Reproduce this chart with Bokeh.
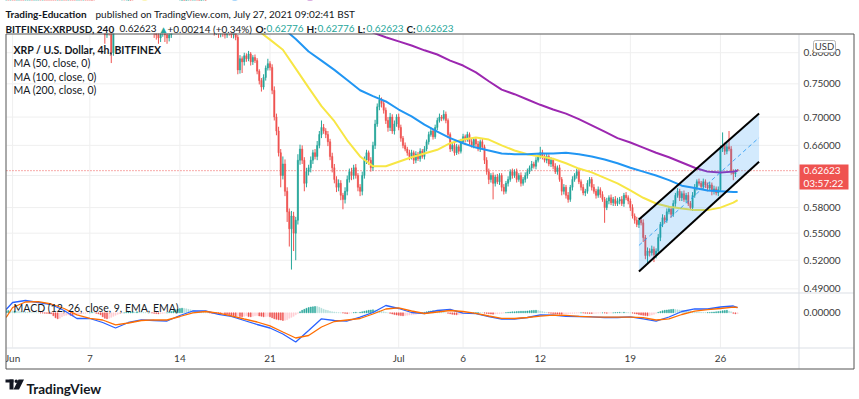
import pandas as pd
from bokeh.plotting import figure
from bokeh.core.properties import value
from bokeh.models import (Range1d, LinearScale, Label, BoxAnnotation, PolyAnnotation,
                          ColumnDataSource)
from bokeh.embed import file_html
from bokeh.resources import INLINE

# ---------------- DATA ----------------
# 4h candles, first bar 2021-05-31 12:00, one row per day
closes = [
    0.990, 0.980, 1.000,
    0.990, 0.970, 0.980, 1.000, 0.985, 0.975,  # Jun 1
    0.990, 1.010, 1.020, 1.010, 1.030, 1.040,
    1.050, 1.040, 1.060, 1.040, 1.030, 1.020,
    0.990, 0.970, 0.950, 0.960, 0.940, 0.950,
    0.930, 0.920, 0.940, 0.920, 0.910, 0.900,  # Jun 5
    0.910, 0.920, 0.910, 0.930, 0.920, 0.910,
    0.900, 0.890, 0.880, 0.860, 0.850, 0.840,
    0.840, 0.830, 0.845, 0.835, 0.800, 0.840,
    0.860, 0.870, 0.880, 0.890, 0.880, 0.890,
    0.900, 0.890, 0.880, 0.870, 0.880, 0.860,  # Jun 10
    0.870, 0.860, 0.860, 0.850, 0.840, 0.845,
    0.835, 0.830, 0.825, 0.835, 0.840, 0.830,
    0.825, 0.830, 0.840, 0.850, 0.860, 0.880,
    0.890, 0.900, 0.890, 0.900, 0.910, 0.900,
    0.910, 0.920, 0.900, 0.890, 0.900, 0.910,  # Jun 15
    0.880, 0.860, 0.850, 0.840, 0.835, 0.838,
    0.832, 0.840, 0.835, 0.830, 0.842, 0.836,
    0.830, 0.838, 0.826, 0.772, 0.790, 0.785,
    0.795, 0.790, 0.798, 0.785, 0.792, 0.787,
    0.770, 0.755, 0.745, 0.760, 0.775, 0.782,  # Jun 20
    0.776, 0.740, 0.700, 0.680, 0.650, 0.620,
    0.635, 0.600, 0.575, 0.555, 0.570, 0.550,
    0.565, 0.640, 0.655, 0.640, 0.610, 0.625,
    0.630, 0.640, 0.650, 0.645, 0.660, 0.675,
    0.685, 0.680, 0.675, 0.665, 0.645, 0.630,  # Jun 25
    0.615, 0.605, 0.610, 0.595, 0.590, 0.600,
    0.615, 0.625, 0.620, 0.630, 0.620, 0.605,
    0.600, 0.620, 0.640, 0.650, 0.640, 0.630,
    0.660, 0.690, 0.715, 0.725, 0.720, 0.710,
    0.695, 0.685, 0.700, 0.680, 0.690, 0.700,  # Jun 30
    0.685, 0.670, 0.660, 0.655, 0.650, 0.645,  # Jul 1
    0.650, 0.640, 0.648, 0.642, 0.652, 0.645,
    0.655, 0.665, 0.675, 0.680, 0.672, 0.685,
    0.695, 0.700, 0.698, 0.704, 0.695, 0.675,
    0.655, 0.660, 0.650, 0.658, 0.652, 0.665,  # Jul 5
    0.672, 0.668, 0.675, 0.665, 0.660, 0.668,
    0.662, 0.655, 0.665, 0.658, 0.640, 0.625,
    0.615, 0.620, 0.610, 0.618, 0.612, 0.620,
    0.605, 0.600, 0.610, 0.615, 0.625, 0.620,
    0.625, 0.615, 0.620, 0.610, 0.615, 0.620,  # Jul 10
    0.625, 0.630, 0.635, 0.632, 0.640, 0.645,
    0.650, 0.645, 0.640, 0.645, 0.635, 0.640,
    0.632, 0.625, 0.630, 0.615, 0.600, 0.605,
    0.595, 0.590, 0.605, 0.615, 0.620, 0.625,
    0.612, 0.605, 0.598, 0.600, 0.610, 0.615,  # Jul 15
    0.605, 0.600, 0.595, 0.602, 0.596, 0.590,
    0.580, 0.588, 0.592, 0.586, 0.590, 0.585,
    0.588, 0.590, 0.585, 0.595, 0.592, 0.588,
    0.580, 0.570, 0.565, 0.560, 0.565, 0.562,
    0.545, 0.525, 0.530, 0.528, 0.532, 0.526,  # Jul 20
    0.530, 0.545, 0.560, 0.568, 0.565, 0.575,
    0.578, 0.572, 0.585, 0.595, 0.600, 0.592,
    0.597, 0.590, 0.595, 0.585, 0.580, 0.595,
    0.605, 0.612, 0.610, 0.606, 0.612, 0.608,
    0.604, 0.608, 0.600, 0.603, 0.598, 0.602,  # Jul 25
    0.655, 0.660, 0.652, 0.658, 0.655, 0.625,
    0.622, 0.62409, 0.62623,                   # Jul 27
]
first_open = 0.985
last_open = 0.62776

# wick lengths above / below the body, in thousandths
upper_wick_milli = [
    5, 4, 6,
    5, 4, 6, 5, 4, 6,  5, 6, 4, 5, 7, 5,  6, 5, 8, 4, 5, 6,  5, 4, 6, 5, 4, 5,
    4, 5, 6, 4, 5, 4,  5, 6, 4, 5, 4, 5,  4, 5, 4, 6, 5, 4,  5, 4, 6, 5, 4, 6,
    5, 4, 5, 6, 4, 5,  6, 4, 5, 4, 6, 5,  4, 5, 4, 6, 5, 4,  4, 3, 5, 4, 5, 3,
    4, 5, 4, 6, 5, 4,  5, 6, 4, 5, 6, 5,  6, 5, 4, 5, 6, 5,  5, 4, 5, 4, 3, 5,
    4, 5, 3, 4, 5, 4,  4, 5, 3, 4, 6, 4,  5, 4, 5, 3, 4, 5,  4, 3, 4, 5, 4, 8,
    4, 5, 6, 5, 6, 5,  10, 6, 5, 4, 6, 5, 4, 8, 6, 5, 4, 5,  4, 5, 4, 5, 6, 5,
    10, 5, 4, 5, 4, 5, 5, 4, 5, 4, 3, 5,  5, 4, 5, 4, 5, 3,  4, 5, 5, 4, 3, 4,
    5, 6, 5, 8, 4, 5,  4, 5, 6, 4, 5, 4,
    5, 4, 3, 4, 3, 4,  4, 3, 4, 3, 4, 3,  4, 3, 4, 5, 3, 4,  4, 5, 3, 6, 4, 3,
    3, 4, 3, 4, 3, 4,  4, 3, 4, 3, 4, 3,  3, 4, 3, 4, 3, 4,  4, 3, 4, 3, 4, 3,
    3, 4, 3, 4, 3, 4,  3, 4, 3, 4, 3, 4,  4, 3, 4, 3, 4, 4,  8, 4, 3, 4, 3, 4,
    3, 4, 3, 4, 3, 4,  3, 4, 3, 4, 3, 4,  4, 3, 4, 3, 4, 3,  3, 4, 3, 4, 3, 4,
    3, 4, 3, 4, 3, 4,  4, 3, 4, 3, 4, 3,  3, 4, 3, 4, 3, 4,  4, 3, 4, 3, 4, 3,
    3, 4, 3, 4, 3, 4,  4, 3, 4, 3, 4, 3,  3, 4, 3, 4, 3, 4,  4, 3, 4, 3, 4, 3,
    3, 4, 3, 4, 3, 4,  5, 18, 4, 5, 22, 4,
    3, 4, 0,
]
lower_wick_milli = [
    5, 6, 4,
    5, 6, 4, 5, 6, 4,  5, 4, 6, 5, 4, 5,  4, 5, 6, 5, 4, 6,  5, 6, 4, 5, 6, 5,
    6, 5, 4, 6, 5, 6,  5, 4, 6, 5, 6, 5,  5, 4, 6, 5, 4, 5,  6, 15, 5, 6, 17, 5,
    4, 5, 6, 4, 5, 4,  5, 6, 4, 5, 4, 6,  5, 4, 6, 5, 6, 5,  10, 8, 10, 7, 8, 12,
    10, 6, 5, 4, 5, 6, 5, 4, 6, 5, 4, 6,  5, 4, 6, 5, 4, 5,  6, 5, 4, 6, 6, 5,
    7, 6, 8, 6, 5, 7,  5, 6, 5, 7, 6, 18, 6, 5, 4, 6, 5, 4,  5, 6, 7, 4, 5, 4,
    5, 6, 5, 6, 5, 15, 5, 6, 12, 20, 45, 20, 30, 5, 6, 5, 10, 5, 5, 6, 5, 4, 5, 4,
    5, 4, 5, 6, 5, 6,  5, 6, 5, 6, 12, 5, 5, 4, 6, 5, 4, 5,  6, 5, 4, 5, 6, 5,
    4, 5, 4, 5, 6, 5,  5, 6, 5, 4, 5, 4,
    4, 5, 4, 3, 4, 5,  4, 5, 4, 3, 4, 3,  4, 3, 4, 3, 4, 3,  4, 3, 4, 3, 4, 5,
    4, 3, 4, 3, 4, 3,  3, 4, 3, 4, 3, 4,  4, 3, 4, 3, 5, 4,  6, 4, 20, 4, 3, 4,
    5, 4, 3, 4, 3, 4,  3, 4, 3, 4, 3, 4,  4, 3, 4, 3, 4, 3,  3, 4, 3, 4, 3, 4,
    4, 3, 4, 3, 5, 4,  4, 4, 3, 4, 3, 4,  3, 4, 3, 4, 3, 4,  4, 3, 4, 3, 4, 3,
    18, 3, 4, 3, 4, 3, 3, 4, 3, 4, 3, 4,  4, 3, 4, 3, 4, 3,  5, 4, 8, 4, 3, 8,
    4, 3, 4, 3, 4, 3,  3, 4, 3, 4, 3, 4,  4, 3, 4, 3, 3, 4,  3, 4, 3, 4, 3, 4,
    4, 3, 5, 4, 3, 4,  3, 4, 5, 4, 3, 4,
    8, 4, 0,
]

# indicator samples: 2021-05-31 12:00, then daily 00:00 Jun 1 .. Jul 27, then Jul 27 08:00
ma50 = [0.990,
        0.990, 0.992, 0.995, 1.000, 1.000, 0.990, 0.970, 0.950, 0.930, 0.910,
        0.895, 0.882, 0.872, 0.866, 0.862, 0.864, 0.865, 0.860, 0.850, 0.839,
        0.822, 0.805, 0.774, 0.744, 0.716, 0.694, 0.667, 0.645, 0.632, 0.632,
        0.638, 0.644, 0.649, 0.654, 0.663, 0.668, 0.671, 0.668, 0.660, 0.653,
        0.648, 0.645, 0.642, 0.636, 0.629, 0.624, 0.617, 0.610, 0.601, 0.592,
        0.585, 0.581, 0.579, 0.577, 0.577, 0.580, 0.586,
        0.589]
ma100 = [1.080,
         1.080, 1.080, 1.075, 1.070, 1.065, 1.060, 1.050, 1.040, 1.030, 1.015,
         1.000, 0.985, 0.970, 0.955, 0.940, 0.925, 0.910, 0.895, 0.882, 0.868,
         0.855, 0.842, 0.823, 0.802, 0.787, 0.772, 0.756, 0.740, 0.731, 0.723,
         0.711, 0.701, 0.689, 0.679, 0.670, 0.663, 0.657, 0.653, 0.649, 0.648,
         0.648, 0.649, 0.649, 0.650, 0.648, 0.645, 0.641, 0.636, 0.630, 0.625,
         0.620, 0.614, 0.607, 0.604, 0.601, 0.600, 0.599,
         0.599]
ma200 = [1.150,
         1.148, 1.143, 1.138, 1.133, 1.128, 1.122, 1.115, 1.108, 1.100, 1.090,
         1.080, 1.068, 1.055, 1.040, 1.025, 1.010, 0.995, 0.980, 0.965, 0.950,
         0.935, 0.920, 0.905, 0.893, 0.881, 0.870, 0.858, 0.845, 0.834, 0.826,
         0.819, 0.812, 0.804, 0.797, 0.787, 0.779, 0.768, 0.754, 0.741, 0.734,
         0.726, 0.718, 0.711, 0.705, 0.697, 0.688, 0.679, 0.670, 0.664, 0.657,
         0.650, 0.644, 0.637, 0.630, 0.625, 0.624, 0.625,
         0.626]
macd_line = [0.0033,
             0.0103, 0.0123, 0.0103, 0.0083, 0.0023, -0.0057, -0.0057, -0.0097, -0.0152, -0.0097,
             -0.0070, -0.0077, -0.0082, -0.0027, 0.0018, 0.0018, -0.0015, -0.0035, -0.0077, -0.0117,
             -0.0152, -0.0212, -0.0292, -0.0177, -0.0060, -0.0077, -0.0082, -0.0044, 0.0003, 0.0073,
             0.0043, 0.0003, -0.0007, 0.0023, 0.0033, -0.0003, -0.0009, -0.0037, -0.0064, -0.0062,
             -0.0047, -0.0020, -0.0023, -0.0035, -0.0037, -0.0040, -0.0047, -0.0047, -0.0040, -0.0060,
             -0.0084, -0.0042, 0.0013, 0.0040, 0.0038, 0.0058, 0.0068,
             0.0053]
signal_line = [-0.0047,
               0.0053, 0.0108, 0.0111, 0.0088, 0.0043, -0.0020, -0.0055, -0.0072, -0.0120, -0.0102,
               -0.0077, -0.0071, -0.0072, -0.0037, 0.0000, 0.0013, -0.0004, -0.0030, -0.0062, -0.0092,
               -0.0130, -0.0192, -0.0252, -0.0227, -0.0142, -0.0087, -0.0072, -0.0057, -0.0012, 0.0038,
               0.0050, 0.0018, -0.0007, 0.0008, 0.0023, 0.0013, -0.0005, -0.0032, -0.0055, -0.0057,
               -0.0047, -0.0034, -0.0023, -0.0025, -0.0035, -0.0041, -0.0044, -0.0044, -0.0044, -0.0049,
               -0.0072, -0.0060, -0.0017, 0.0016, 0.0031, 0.0043, 0.0056,
               0.0053]
# MACD histogram per 4h bar, in units of 0.0001
macd_hist_e4 = [
    20, 22, 20,
    18, 18, 16, 14, 12, 10,  8, 6, 5, 3, 2, 1,  0, -2, -3, -4, -5, -6,
    -10, -30, -50, -60, -55, -40,  -30, -25, -20, -25, -30, -25,  -20, -15, -10, -8, -5, -3,
    0, 5, 3, -5, -10, -20,  -40, -55, -60, -55, -45, -35,  -25, -15, -8, -3, 0, 5,
    8, 10, 10, 8, 10, 8,  6, 5, 3, 2, 0, -2,  -5, -8, -10, -8, -5, -3,
    0, 5, 12, 20, 30, 38,  42, 46, 44, 40, 35, 30,  25, 20, 15, 12, 10, 8,
    5, 2, -2, -4, -5, -6,  -8, -10, -8, -12, -15, -20,  -25, -30, -35, -32, -38, -40,
    -35, -30, -38, -40, -35, -30,  -28, -32, -35, -40, -38, -35,  -40, -50, -60, -65, -70, -72,
    -77, -75, -70, -55, -45, -35,  -20, -5, 10, 25, 35, 45,  52, 58, 60, 63, 62, 55,
    45, 35, 28, 22, 15, 10,  8, 5, 2, 0, -2, -5,  -8, -5, -2, 2, 5, 3,
    5, 10, 15, 20, 25, 28,  30, 28, 25, 20, 15, 10,  5, 0, -5, -12, -18, -22,
    -25, -28, -30, -28, -25, -22,  -20, -18, -15, -10, -5, 0,  5, 10, 15, 18, 20, 18,
    15, 12, 10, 5, 0, -5,  -10, -15, -18, -20, -18, -15,  -12, -8, -5, -3, -2, 0,
    2, 3, 2, 0, -3, -6,  -10, -12, -14, -12, -10, -8,  -5, -2, 2, 5, 8, 10,
    10, 12, 14, 15, 15, 16,  18, 20, 22, 24, 25, 22,  18, 12, 8, 3, -2, -5,
    -8, -10, -12, -14, -15, -14,  -12, -10, -8, -6, -5, -3,  -2, 0, -2, -4, -5, -6,
    -6, -5, -4, -3, -2, 0,  -2, -4, -3, -2, 0, 2,  3, 5, 4, 5, 3, 2,
    0, -3, -8, -12, -18, -22,  -25, -28, -30, -28, -22, -15,  -5, 5, 12, 20, 25, 28,
    30, 33, 35, 33, 30, 28,  25, 22, 20, 18, 15, 12,  10, 8, 6, 5, 4, 3,
    3, 4, 6, 8, 10, 12,  15, 20, 22, 25, 18, 10,
    -5, -10, -8,
]

# drawn parallel channel (start / end time, prices of its two rails)
channel_times = ["2021-07-19 16:00", "2021-07-29 00:00"]
channel_upper = [0.566, 0.705]
channel_lower = [0.508, 0.638]

tick_dates = ["2021-06-01", "2021-06-07", "2021-06-14", "2021-06-21", "2021-07-01",
              "2021-07-06", "2021-07-12", "2021-07-19", "2021-07-26"]
tick_labels = ["Jun", "7", "14", "21", "Jul", "6", "12", "19", "26"]
price_ticks = [0.49, 0.52, 0.55, 0.58, 0.62, 0.66, 0.70, 0.75, 0.80]
last_price = 0.62623

# visible window of the panes
day0 = pd.Timestamp("2021-06-01")
view_start = day0 + pd.Timedelta(days=-0.474)
view_end = day0 + pd.Timedelta(days=61.065)
price_top, price_pane_bottom, chart_bottom = 0.83083, 0.4858, 0.43385
macd_bottom = -0.0347

# ---------------- derived series ----------------
opens = [first_open] + closes[:-1]
opens[-1] = last_open
highs = [max(o, c) + u / 1000 for o, c, u in zip(opens, closes, upper_wick_milli)]
lows = [min(o, c) - d / 1000 for o, c, d in zip(opens, closes, lower_wick_milli)]
bar_times = pd.date_range("2021-05-31 12:00", periods=len(closes), freq="4h")
up_col, dn_col = "#26a69a", "#ef5350"
colors = [up_col if c >= o else dn_col for o, c in zip(opens, closes)]
ind_times = ([pd.Timestamp("2021-05-31 12:00")] +
             list(pd.date_range("2021-06-01", "2021-07-27", freq="D")) +
             [pd.Timestamp("2021-07-27 08:00")])
hist = [h / 10000 for h in macd_hist_e4]
hcols = []
for i, h in enumerate(hist):
    prev = hist[i - 1] if i > 0 else h
    if h >= 0:
        hcols.append("#26a69a" if h >= prev else "#b2dfdb")
    else:
        hcols.append("#ef5350" if h <= prev else "#ffcdd2")

BAR_MS = 4 * 3600 * 1000
FONT = "Lato"
TXT = "#131722"
AX = "#3b3b3b"
W, H = 856, 396

p = figure(frame_width=W, frame_height=H, title=None,
           x_axis_type=None, y_axis_type="log", y_axis_location=None,
           x_range=Range1d(day0 + pd.Timedelta(days=-0.9402), day0 + pd.Timedelta(days=65.5712)),
           y_range=Range1d(0.39186, 0.89160),
           output_backend="svg", toolbar_location=None,
           min_border_left=0, min_border_right=0, min_border_top=0, min_border_bottom=0)
p.outline_line_color = None
p.background_fill_color = "white"
p.border_fill_color = "white"
p.xgrid.visible = False
p.ygrid.visible = False
p.extra_y_ranges = {"macd": Range1d(-0.0837, 0.3123)}
p.extra_y_scales = {"macd": LinearScale()}

tick_times = [pd.Timestamp(d) for d in tick_dates]
GRID = "#efefef"
# grid lines
p.segment(x0=tick_times, y0=[price_top] * len(tick_times), x1=tick_times,
          y1=[chart_bottom] * len(tick_times), line_color=GRID, line_width=1)
p.segment(x0=[view_start] * len(price_ticks), y0=price_ticks, x1=[view_end] * len(price_ticks),
          y1=price_ticks, line_color=GRID, line_width=1)

# last price line
p.segment(x0=[view_start], y0=[last_price], x1=[view_end], y1=[last_price],
          line_color=dn_col, line_dash="1 2", line_width=1)

# candles
src = ColumnDataSource(dict(t=bar_times, o=opens, c=closes, h=highs, l=lows, col=colors))
p.segment(x0="t", y0="l", x1="t", y1="h", source=src, line_color="col", line_width=1)
p.vbar(x="t", width=BAR_MS * 0.6, top="o", bottom="c", source=src,
       fill_color="col", line_color="col", line_width=0.5)

# moving averages
p.line(ind_times, ma50, line_color="#f7e645", line_width=2)
p.line(ind_times, ma100, line_color="#2196f3", line_width=2)
p.line(ind_times, ma200, line_color="#9c27b0", line_width=2)

# channel drawing
ct = [pd.Timestamp(t) for t in channel_times]
p.patch([ct[0], ct[1], ct[1], ct[0]],
        [channel_lower[0], channel_lower[1], channel_upper[1], channel_upper[0]],
        fill_color="#2196f3", fill_alpha=0.2, line_color=None)
mid = [(channel_lower[i] * channel_upper[i]) ** 0.5 for i in range(2)]
p.line(ct, mid, line_color="#2196f3", line_dash="4 3", line_width=1, line_alpha=0.8)
p.line(ct, channel_upper, line_color="black", line_width=2)
p.line(ct, channel_lower, line_color="black", line_width=2)

# MACD pane
p.vbar(x=bar_times, width=BAR_MS * 0.5, top=hist, bottom=0, fill_color=hcols,
       line_color=hcols, line_width=0.5, y_range_name="macd")
p.line(ind_times, macd_line, line_color="#2962ff", line_width=1.3, y_range_name="macd")
p.line(ind_times, signal_line, line_color="#ff6d00", line_width=1.3, y_range_name="macd")

# axis labels (price scale on the right, time scale below)
p.text(x=[view_end] * len(price_ticks), y=price_ticks, text=[f"{v:.5f}" for v in price_ticks],
       x_offset=5, text_baseline="middle", text_align="left", text_font=value(FONT),
       text_font_size="10px", text_color=AX)
p.text(x=[view_end], y=[0.0], text=["0.00000"], y_range_name="macd",
       x_offset=5, text_baseline="middle", text_align="left", text_font=value(FONT),
       text_font_size="10px", text_color=AX)
p.text(x=tick_times, y=[macd_bottom] * len(tick_times), text=tick_labels, y_range_name="macd",
       y_offset=10.5, text_baseline="middle", text_align="center", text_font=value(FONT),
       text_font_size="10px", text_color=AX)


def sy(cy):
    return H - cy


def box(l, r, t, b, fill=None, line=None, lw=1, radius=0):
    p.add_layout(BoxAnnotation(left=l, right=r, top=sy(t), bottom=sy(b),
                               left_units="screen", right_units="screen",
                               top_units="screen", bottom_units="screen",
                               fill_color=fill if fill else "white", fill_alpha=1 if fill else 0,
                               line_color=line, line_alpha=1, line_width=lw,
                               border_radius=radius, level="overlay"))


def text(cx, cy, s, size="10.5px", color=TXT, bold=False, baseline="alphabetic", align="left",
         font=FONT):
    p.add_layout(Label(x=cx, y=sy(cy), x_units="screen", y_units="screen", text=s,
                       text_font=font, text_font_size=size, text_color=color,
                       text_font_style="bold" if bold else "normal",
                       text_baseline=baseline, text_align=align, level="overlay"))


# masks outside the price pane
box(0, W, 0, 33, fill="white")
box(0, 5.5, 0, H, fill="white")

# frame and pane separators
box(798, 799, 34, 368, fill="#dcdfe6")
box(6, 853, 292, 293, fill="#dcdfe6")
box(6, 853, 347, 348, fill="#dcdfe6")
box(5.5, 853.5, 33.5, 368.5, line="#555555")

# header
text(5, 13, "Trading-Education", size="10px", bold=True)
text(95, 13, "published on TradingView.com, July 27, 2021 09:02:41 BST", size="10px")
TEAL = "#26a69a"
for cx, s, col, b in [(5, "BITFINEX:XRPUSD, 240", TXT, True), (119, "0.62623", TXT, False),
                      (158, "\u25b2", TEAL, False), (167, "+0.00214 (+0.34%)", TXT, False),
                      (255, "O:", TXT, True), (266, "0.62776", TEAL, False),
                      (306, "H:", TXT, True), (317, "0.62776", TEAL, False),
                      (357, "L:", TXT, True), (366, "0.62623", TEAL, False),
                      (406, "C:", TXT, True), (416, "0.62623", TEAL, False)]:
    text(cx, 28, s, size="10px", color=col, bold=b)

# legends
text(13, 49, "XRP / U.S. Dollar, 4h, BITFINEX", bold=True, baseline="middle")
text(13, 62.5, "MA (50, close, 0)", baseline="middle")
text(13, 76, "MA (100, close, 0)", baseline="middle")
text(13, 89, "MA (200, close, 0)", baseline="middle")
text(13, 307.5, "MACD (12, 26, close, 9, EMA, EMA)", baseline="middle")

# USD box
box(813, 835, 40, 52, fill="white", line="#b5b5b5", radius=2)
text(824, 46, "USD", size="9.5px", color=AX, baseline="middle", align="center")

# last price tag
box(799, 848, 164, 189, fill="#ef5350")
text(803, 169.5, "0.62623", size="10px", color="white", baseline="middle")
text(803, 182.5, "03:57:22", size="10px", color="white", baseline="middle")

# TradingView logo
box(5, 13, 379, 382, fill=TXT)
box(9, 13, 379, 389, fill=TXT)
box(14, 17.5, 379, 382.5, fill=TXT, radius=2)
p.add_layout(PolyAnnotation(xs=[18, 23.5, 18.5, 13], ys=[sy(379), sy(379), sy(389), sy(389)],
                            xs_units="screen", ys_units="screen", fill_color=TXT, fill_alpha=1,
                            line_color=None, level="overlay"))
text(26, 388.5, "TradingView", size="13.5px", bold=True)

open("out.html", "w").write(file_html(p, INLINE))
